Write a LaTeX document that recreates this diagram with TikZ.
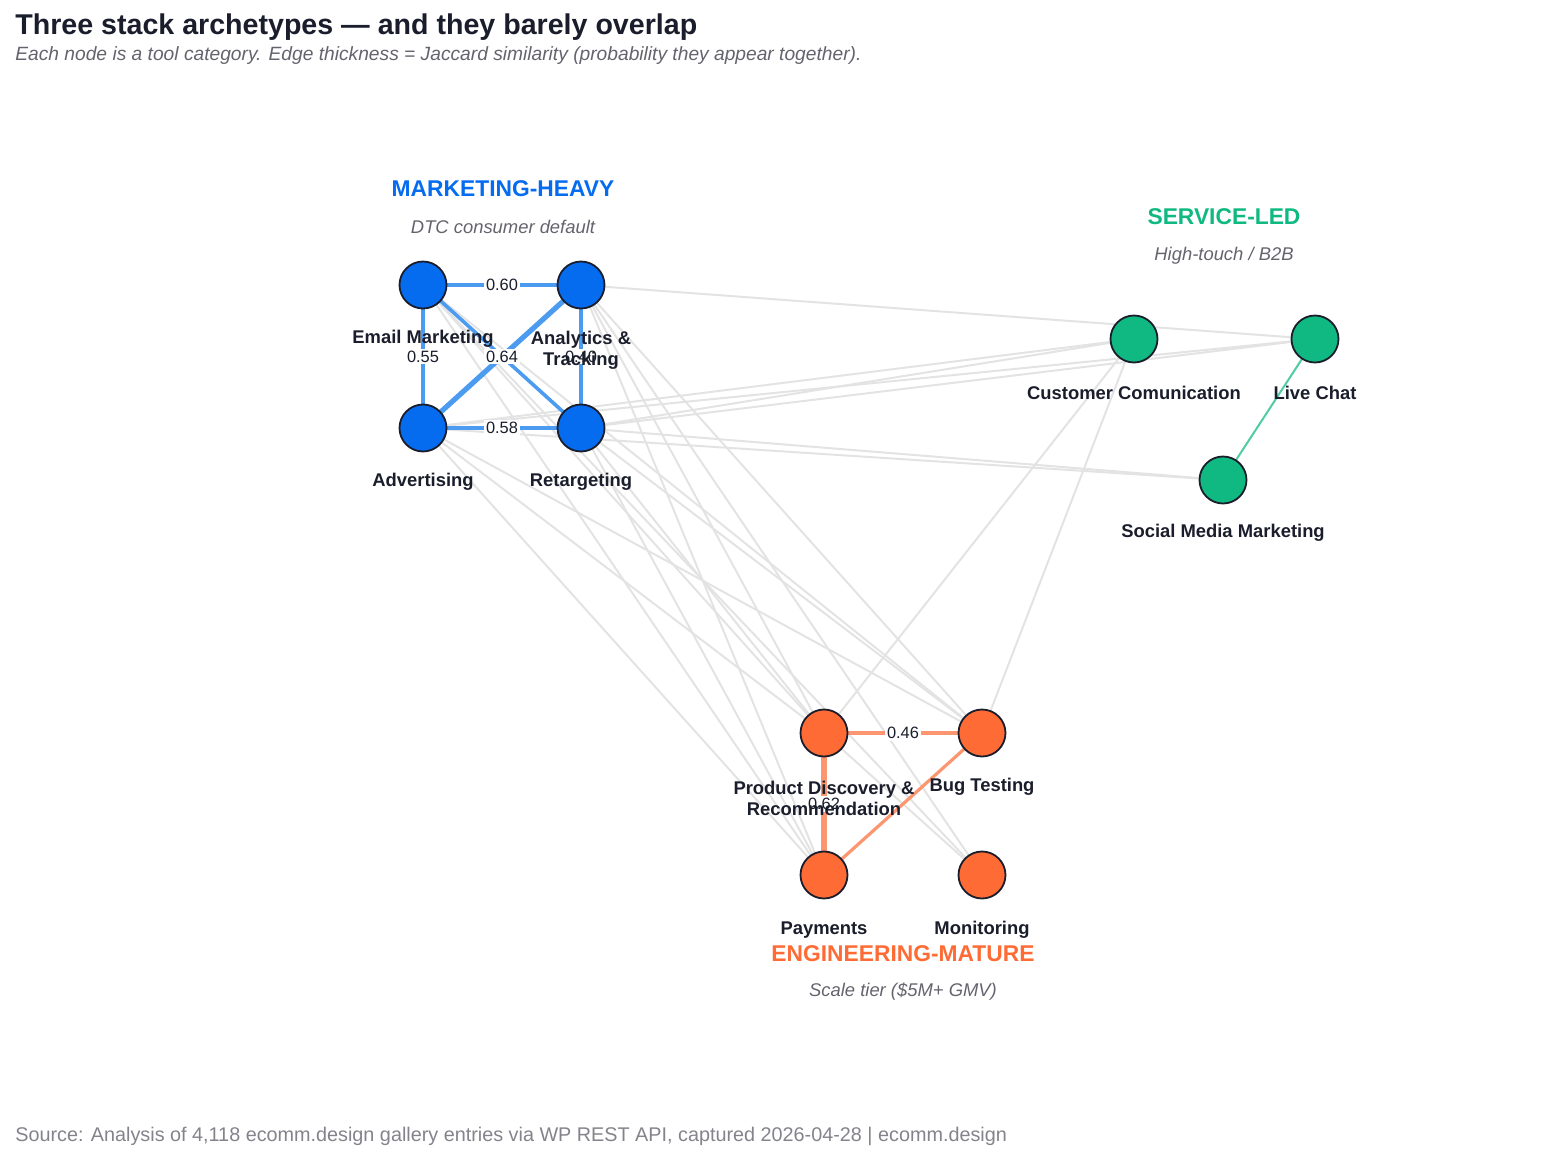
\documentclass[tikz,border=0pt]{standalone}
\usepackage{fontspec}
\setmainfont{Liberation Sans}
\begin{document}
\definecolor{mblue}{RGB}{5,108,240}
\definecolor{eblue}{RGB}{75,155,240}
\definecolor{mgreen}{RGB}{16,185,129}
\definecolor{egreen}{RGB}{80,205,160}
\definecolor{morange}{RGB}{255,107,53}
\definecolor{eorange}{RGB}{252,150,112}
\definecolor{ink}{RGB}{26,29,43}
\definecolor{sub}{RGB}{100,100,110}
\begin{tikzpicture}[x=0.5pt,y=-0.5pt,
  cat/.style={circle,draw=ink,line width=0.9pt,minimum size=23.5pt,inner sep=0pt},
  lab/.style={font=\bfseries\fontsize{9.2}{10.5}\selectfont,text=ink,align=center},
  hdr/.style={font=\bfseries\fontsize{11.4}{13}\selectfont},
  tag/.style={font=\itshape\fontsize{9.2}{10}\selectfont,text=sub},
  gray/.style={draw=black!11,line width=1pt},
  wl/.style={fill=white,inner sep=1pt,font=\fontsize{8.2}{9}\selectfont,text=ink}]
\useasboundingbox (0,0) rectangle (1560,1162);
\node[anchor=west,inner sep=0pt,font=\bfseries\fontsize{14.3}{15}\selectfont,text=ink] at (15,27) {Three stack archetypes — and they barely overlap};
\node[anchor=west,inner sep=0pt,font=\itshape\fontsize{9.6}{10}\selectfont,text=sub] at (15,56) {Each node is a tool category. Edge thickness = Jaccard similarity (probability they appear together).};
\node[anchor=west,inner sep=0pt,font=\fontsize{9.9}{10}\selectfont,text=sub!80] at (15,1136) {Source: Analysis of 4,118 ecomm.design gallery entries via WP REST API, captured 2026-04-28 | ecomm.design};

\coordinate (em) at (423,285); \coordinate (an) at (581,285);
\coordinate (ad) at (423,428); \coordinate (rt) at (581,428);
\coordinate (cc) at (1134,339); \coordinate (lc) at (1315,339); \coordinate (sm) at (1223,480);
\coordinate (pd) at (824,733); \coordinate (bt) at (982,733);
\coordinate (pa) at (824,875); \coordinate (mo) at (982,875);

% gray edges
\foreach \a/\b in {an/lc,ad/lc,rt/lc,rt/cc,ad/cc,rt/sm,ad/sm,pd/cc,bt/cc,
  em/pd,em/bt,em/pa,an/pd,an/bt,an/pa,ad/pd,ad/bt,ad/pa,rt/pd,rt/bt,rt/pa,an/mo,em/mo,pd/mo}
  \draw[gray] (\a) -- (\b);
% colored edges
\draw[eblue,line width=2.4pt] (em) -- (an) node[wl,pos=0.5]{0.60};
\draw[eblue,line width=2.2pt] (em) -- (ad) node[wl,pos=0.5]{0.55};
\draw[eblue,line width=1.8pt] (em) -- (rt);
\draw[eblue,line width=2.6pt] (ad) -- (an) node[wl,pos=0.5]{0.64};
\draw[eblue,line width=1.7pt] (an) -- (rt) node[wl,pos=0.5]{0.40};
\draw[eblue,line width=2.3pt] (ad) -- (rt) node[wl,pos=0.5]{0.58};
\draw[eorange,line width=2pt] (pd) -- (bt) node[wl,pos=0.5]{0.46};
\draw[eorange,line width=2.6pt] (pd) -- (pa) node[wl,pos=0.5]{0.62};
\draw[eorange,line width=1.6pt] (pa) -- (bt);
\draw[egreen,line width=1pt] (lc) -- (sm);

\foreach \c in {em,an,ad,rt} \node[cat,fill=mblue] (n\c) at (\c) {};
\foreach \c in {cc,lc,sm} \node[cat,fill=mgreen] (n\c) at (\c) {};
\foreach \c in {pd,bt,pa,mo} \node[cat,fill=morange] (n\c) at (\c) {};

\node[lab] at (423,339) {Email Marketing};
\node[lab] at (581,350) {Analytics \&\\Tracking};
\node[lab] at (423,482) {Advertising};
\node[lab] at (581,482) {Retargeting};
\node[lab] at (1134,393) {Customer Comunication};
\node[lab] at (1315,393) {Live Chat};
\node[lab] at (1223,533) {Social Media Marketing};
\node[lab] at (824,798) {Product Discovery \&\\Recommendation};
\node[lab] at (982,787) {Bug Testing};
\node[lab] at (824,930) {Payments};
\node[lab] at (982,930) {Monitoring};

\node[hdr,text=mblue] at (503,189) {MARKETING-HEAVY};
\node[tag] at (503,227) {DTC consumer default};
\node[hdr,text=mgreen] at (1224,217) {SERVICE-LED};
\node[tag] at (1224,256) {High-touch / B2B};
\node[hdr,text=morange] at (903,954) {ENGINEERING-MATURE};
\node[tag] at (903,992) {Scale tier (\$5M+ GMV)};
\end{tikzpicture}
\end{document}
